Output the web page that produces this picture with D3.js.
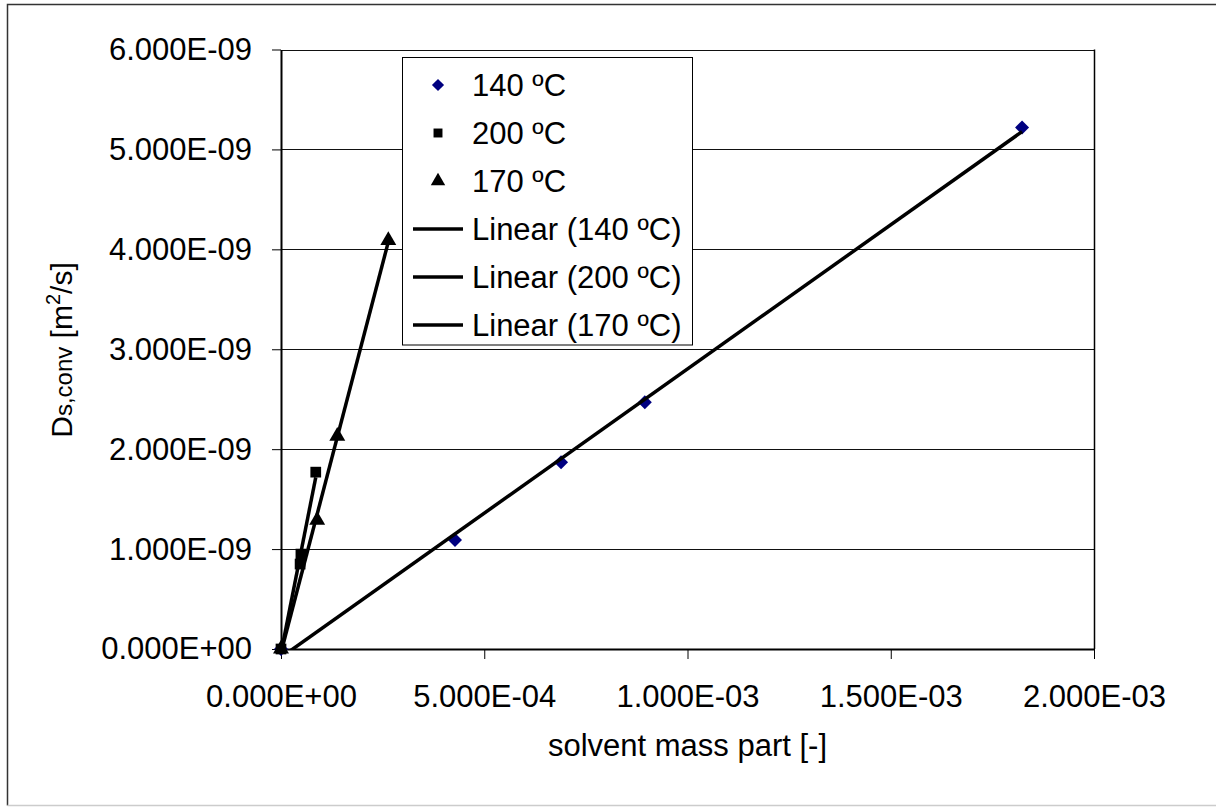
<!DOCTYPE html>
<html>
<head>
<meta charset="utf-8">
<script src="https://cdn.jsdelivr.net/npm/d3@7"></script>
<style>
  body { margin: 0; background: #fff; }
  svg text { font-family: "Liberation Sans", Arial, sans-serif; fill: #000; }
</style>
</head>
<body>
<svg id="chart" width="1216" height="807"></svg>
<script>
// solvent mass part vs diffusion coefficient, three temperatures
const x140 = [0, 4.28e-4, 6.89e-4, 8.95e-4, 1.823e-3];
const y140 = [0, 1.09e-9, 1.87e-9, 2.47e-9, 5.22e-9];
const x200 = [0, 4.7e-5, 4.9e-5, 8.55e-5];
const y200 = [0, 0.85e-9, 0.95e-9, 1.77e-9];
const x170 = [0, 8.9e-5, 1.385e-4, 2.64e-4];
const y170 = [0, 1.29e-9, 2.13e-9, 4.09e-9];

const xTicks = [0, 5e-4, 1e-3, 1.5e-3, 2e-3];
const yTicks = [0, 1e-9, 2e-9, 3e-9, 4e-9, 5e-9, 6e-9];
const legendLabels = ["140 ºC", "200 ºC", "170 ºC", "Linear (140 ºC)", "Linear (200 ºC)", "Linear (170 ºC)"];

const plot = { left: 281, top: 49.5, right: 1094, bottom: 649 };

// Excel style 0.000E+00
function fmtE(v) {
    if (v === 0) return "0.000E+00";
    const [m, e] = v.toExponential(3).split("e");
    const n = +e;
    return m + "E" + (n < 0 ? "-" : "+") + String(Math.abs(n)).padStart(2, "0");
}

// least squares fit, like Excel's linear trendline
function linFit(xs, ys) {
    const n = xs.length;
    const mx = d3.mean(xs), my = d3.mean(ys);
    let sxy = 0, sxx = 0;
    for (let i = 0; i < n; i++) {
        sxy += (xs[i] - mx) * (ys[i] - my);
        sxx += (xs[i] - mx) ** 2;
    }
    const slope = sxy / sxx;
    return { slope, intercept: my - slope * mx };
}

const svg = d3.select("#chart");

// outer chart frame (right edge runs off the picture)
svg.append("path")
    .attr("d", "M1220,4.5H7.5V805.5")
    .attr("fill", "none")
    .attr("stroke", "#333")
    .attr("stroke-width", 1.5);
svg.append("line")
    .attr("x1", 7.5).attr("x2", 1220)
    .attr("y1", 805.5).attr("y2", 805.5)
    .attr("stroke", "#ccc")
    .attr("stroke-width", 1.5);

const x = d3.scaleLinear().domain([0, 2e-3]).range([plot.left, plot.right]);
const y = d3.scaleLinear().domain([0, 6e-9]).range([plot.bottom, plot.top]);

// horizontal grid
svg.append("g")
    .selectAll("line")
    .data(yTicks.slice(1))
    .join("line")
    .attr("x1", plot.left).attr("x2", plot.right)
    .attr("y1", d => Math.round(y(d)) + 0.5).attr("y2", d => Math.round(y(d)) + 0.5)
    .attr("stroke", "#111")
    .attr("stroke-width", 1);

// right border of plot area
svg.append("line")
    .attr("x1", plot.right + 0.5).attr("x2", plot.right + 0.5)
    .attr("y1", plot.top).attr("y2", plot.bottom)
    .attr("stroke", "#000").attr("stroke-width", 1.5);

// axes
const yAxis = svg.append("g")
    .attr("transform", `translate(${plot.left},0)`)
    .call(d3.axisLeft(y).tickValues(yTicks).tickFormat(fmtE).tickSize(9).tickSizeOuter(0).tickPadding(20));

const xAxis = svg.append("g")
    .attr("transform", `translate(0,${plot.bottom})`)
    .call(d3.axisBottom(x).tickValues(xTicks).tickFormat(fmtE).tickSize(10).tickSizeOuter(0).tickPadding(26));

[xAxis, yAxis].forEach(a => {
    a.select(".domain").attr("stroke", "#000").attr("stroke-width", 2);
    a.selectAll(".tick line").attr("stroke", "#000").attr("stroke-width", 1);
    a.selectAll(".tick text")
        .style("font-family", "'Liberation Sans', Arial, sans-serif")
        .style("font-size", "31px");
});

// axis titles
svg.append("text")
    .attr("x", (plot.left + plot.right) / 2)
    .attr("y", 756)
    .attr("text-anchor", "middle")
    .style("font-size", "31px")
    .text("solvent mass part [-]");

const yTitle = svg.append("text")
    .attr("transform", "translate(72,350) rotate(-90)")
    .attr("text-anchor", "middle")
    .style("font-size", "30px");
yTitle.append("tspan").text("D");
yTitle.append("tspan").style("font-size", "24px").text("s,conv");
yTitle.append("tspan").text(" [m");
yTitle.append("tspan").style("font-size", "20px").attr("dy", -12).text("2");
yTitle.append("tspan").attr("dy", 12).text("/s]");

// markers
const diamond = d3.symbol().type(d3.symbolDiamond2).size(125);
const square = d3.symbol().type(d3.symbolSquare).size(115);
const triangle = d3.symbol().type(d3.symbolTriangle).size(110);

const series = [
    { xs: x140, ys: y140, sym: diamond, color: "#000080" },
    { xs: x200, ys: y200, sym: square, color: "#000" },
    { xs: x170, ys: y170, sym: triangle, color: "#000" }
];

series.forEach(s => {
    svg.append("g")
        .selectAll("path")
        .data(s.xs.map((v, i) => [v, s.ys[i]]))
        .join("path")
        .attr("transform", d => `translate(${x(d[0])},${y(d[1])})`)
        .attr("d", s.sym)
        .attr("fill", s.color);
});

// trendlines, clipped to plot area
svg.append("clipPath").attr("id", "plotClip")
    .append("rect")
    .attr("x", plot.left).attr("y", plot.top)
    .attr("width", plot.right - plot.left).attr("height", plot.bottom - plot.top);

const trend = svg.append("g").attr("clip-path", "url(#plotClip)");
series.forEach(s => {
    const f = linFit(s.xs, s.ys);
    const x0 = d3.min(s.xs), x1 = d3.max(s.xs);
    trend.append("line")
        .attr("x1", x(x0)).attr("y1", y(f.intercept + f.slope * x0))
        .attr("x2", x(x1)).attr("y2", y(f.intercept + f.slope * x1))
        .attr("stroke", "#000")
        .attr("stroke-width", 3.5);
});

// legend
const legend = svg.append("g");
legend.append("rect")
    .attr("x", 402.5).attr("y", 57.5)
    .attr("width", 290).attr("height", 287.5)
    .attr("fill", "#fff")
    .attr("stroke", "#000")
    .attr("stroke-width", 1);

const rowY = d3.scalePoint().domain(d3.range(legendLabels.length)).range([85, 325]);

legendLabels.forEach((label, i) => {
    const cy = rowY(i);
    if (i < 3) {
        legend.append("path")
            .attr("transform", `translate(438,${cy})`)
            .attr("d", i === 0 ? d3.symbol().type(d3.symbolDiamond2).size(95)()
                : i === 1 ? d3.symbol().type(d3.symbolSquare).size(80)()
                : d3.symbol().type(d3.symbolTriangle).size(90)())
            .attr("fill", series[i].color);
    } else {
        legend.append("line")
            .attr("x1", 413).attr("x2", 463)
            .attr("y1", cy).attr("y2", cy)
            .attr("stroke", "#000")
            .attr("stroke-width", 3.5);
    }
    legend.append("text")
        .attr("x", 472)
        .attr("y", cy + 11)
        .style("font-size", "31px")
        .text(label);
});
</script>
</body>
</html>
